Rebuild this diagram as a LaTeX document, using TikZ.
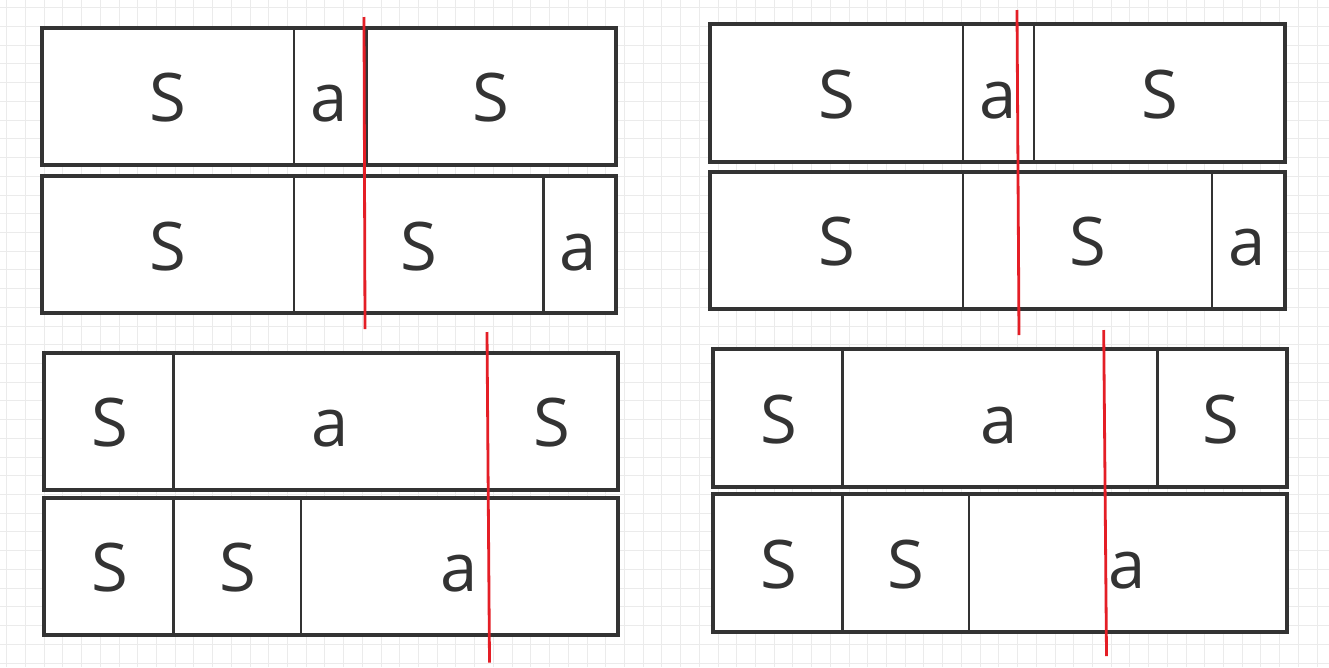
\documentclass[tikz,border=0pt]{standalone}
\usepackage{fontspec}
\setmainfont{Open Sans}
\definecolor{ink}{HTML}{333333}
\definecolor{gridc}{HTML}{EBEBEB}
\definecolor{cut}{HTML}{E41E26}
\begin{document}
\begin{tikzpicture}[x=1pt,y=-1pt,
  rowbox/.style={draw=ink, fill=white, line width=4pt},
  divider/.style={draw=ink, line width=2.8pt},
  cutline/.style={draw=cut, line width=2.8pt},
  gridline/.style={draw=gridc, line width=1pt},
  lbl/.style={anchor=base, text=ink, font=\fontsize{67}{67}\selectfont, inner sep=0pt}]
\fill[white] (0,0) rectangle (1329,667);
\useasboundingbox (0,0) rectangle (1329,667);
\foreach \i in {0,...,70} \draw[gridline] ({6.7+18.72*\i},0) -- ({6.7+18.72*\i},667);
\foreach \i in {0,...,35} \draw[gridline] (0,{7.8+18.72*\i}) -- (1329,{7.8+18.72*\i});

% ---------- top-left group ----------
\draw[rowbox] (42,28) rectangle (616,164.5);
\draw[divider] (294,28) -- (294,164.5);
\draw[divider] (366.5,28) -- (366.5,164.5);
\draw[rowbox] (42,175.5) rectangle (616,313);
\draw[divider] (294,175.5) -- (294,313);
\draw[divider] (543.5,175.5) -- (543.5,313);
\node[lbl] (tl1) at (168,121.7) {S};
\node[lbl] (tl2) at (329.5,121.7) {a};
\node[lbl] (tl3) at (491,121.7) {S};
\node[lbl] (tl4) at (168,270) {S};
\node[lbl] (tl5) at (418.5,270) {S};
\node[lbl] (tl6) at (578.5,270) {a};

% ---------- bottom-left group ----------
\draw[rowbox] (44,352.5) rectangle (618,489.5);
\draw[divider] (173.5,352.5) -- (173.5,489.5);
\draw[rowbox] (44,497.5) rectangle (618,634.5);
\draw[divider] (173.5,497.5) -- (173.5,634.5);
\draw[divider] (301,497.5) -- (301,634.5);
\node[lbl] (bl1) at (110,446.7) {S};
\node[lbl] (bl2) at (330.5,446.7) {a};
\node[lbl] (bl3) at (552,446.7) {S};
\node[lbl] (bl4) at (110,591.7) {S};
\node[lbl] (bl5) at (237.8,591.7) {S};
\node[lbl] (bl6) at (458.7,591.7) {a};

% ---------- top-right group ----------
\draw[rowbox] (710,23.5) rectangle (1285,162);
\draw[divider] (963,23.5) -- (963,162);
\draw[divider] (1034,23.5) -- (1034,162);
\draw[rowbox] (710,171.5) rectangle (1285,309);
\draw[divider] (963,171.5) -- (963,309);
\draw[divider] (1212,171.5) -- (1212,309);
\node[lbl] (tr1) at (837,118.3) {S};
\node[lbl] (tr2) at (998.6,118.3) {a};
\node[lbl] (tr3) at (1160,118.3) {S};
\node[lbl] (tr4) at (837,265.7) {S};
\node[lbl] (tr5) at (1087.4,265.7) {S};
\node[lbl] (tr6) at (1247.6,265.7) {a};

% ---------- bottom-right group ----------
\draw[rowbox] (713,348.5) rectangle (1286.5,486.5);
\draw[divider] (842.5,348.5) -- (842.5,486.5);
\draw[divider] (1157.5,348.5) -- (1157.5,486.5);
\draw[rowbox] (713,494) rectangle (1286.5,631.5);
\draw[divider] (842.5,494) -- (842.5,631.5);
\draw[divider] (969,494) -- (969,631.5);
\node[lbl] (br1) at (778.8,443.3) {S};
\node[lbl] (br2) at (998.9,443.3) {a};
\node[lbl] (br3) at (1221,443.3) {S};
\node[lbl] (br4) at (778.8,588.3) {S};
\node[lbl] (br5) at (906,588.3) {S};
\node[lbl] (br6) at (1127,588.3) {a};

% ---------- red cut lines ----------
\coordinate (c1a) at (364,17);     \coordinate (c1b) at (365,329);
\coordinate (c2a) at (487,332);    \coordinate (c2b) at (489.5,662.5);
\coordinate (c3a) at (1017,10);    \coordinate (c3b) at (1019,335);
\coordinate (c4a) at (1103.7,330); \coordinate (c4b) at (1106.5,656);
\draw[cutline] (c1a) -- (c1b);
\draw[cutline] (c2a) -- (c2b);
\draw[cutline] (c3a) -- (c3b);
\draw[cutline] (c4a) -- (c4b);
\end{tikzpicture}
\end{document}
